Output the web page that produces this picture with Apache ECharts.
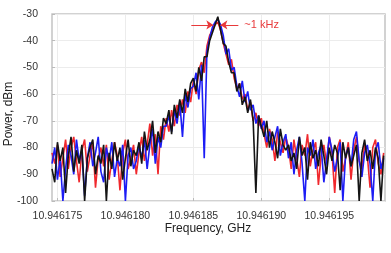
<!DOCTYPE html>
<html>
<head>
<meta charset="utf-8">
<script src="https://cdn.jsdelivr.net/npm/echarts@6/dist/echarts.min.js"></script>
<style>html,body{margin:0;padding:0;background:#fff}#c{width:391px;height:253px}</style>
</head>
<body>
<div id="c"></div>
<script>
// Frequency offset in kHz above 10.946 GHz (sweep grid)
const freqs = [174.6,174.8,175.0,175.2,175.4,175.6,175.8,176.0,176.2,176.4,176.6,176.8,177.0,177.2,177.4,177.6,177.8,178.0,178.2,178.4,178.6,178.8,179.0,179.2,179.4,179.6,179.8,180.0,180.2,180.4,180.6,180.8,181.0,181.2,181.4,181.6,181.8,182.0,182.2,182.4,182.6,182.8,183.0,183.2,183.4,183.6,183.8,184.0,184.2,184.4,184.6,184.8,185.0,185.2,185.4,185.6,185.8,186.0,186.2,186.4,186.6,186.8,187.0,187.2,187.4,187.6,187.8,188.0,188.2,188.4,188.6,188.8,189.0,189.2,189.4,189.6,189.8,190.0,190.2,190.4,190.6,190.8,191.0,191.2,191.4,191.6,191.8,192.0,192.2,192.4,192.6,192.8,193.0,193.2,193.4,193.6,193.8,194.0,194.2,194.4,194.6,194.8,195.0,195.2,195.4,195.6,195.8,196.0,196.2,196.4,196.6,196.8,197.0,197.2,197.4,197.6,197.8,198.0,198.2,198.4,198.6,198.8,199.0];

const redPower = [-82,-86,-79,-91,-84,-77,-88,-80,-76,-85,-93,-81,-77,-89,-83,-78,-95,-84,-80,-87,-79,-92,-85,-78,-83,-96,-82,-77,-88,-84,-79,-90,
  -82,-76,-85,-79,-71,-83,-75,-90,-72,-77,
  -69,-74,-66,-72,-64,-68,-62,-67,-59,-63,
  -55,-60,-51,-48,-52,
  -42,-38,-36,-34,
  -33,
  -36,-41,-45,-49,-47,
  -54,-58,-56,-62,-60,
  -66,-63,-70,-67,-72,
  -69,-75,-80,-73,-77,-85,-74,-78,-82,-76,
  -80,-88,-77,-84,-91,-79,-83,-75,-87,-81,-78,-94,-83,-79,-86,-76,-82,-97,-80,-77,-89,-84,-78,-92,-81,-76,-85,-88,-79,-83,-95,-80,-77,-86,-90,-82];

const bluePower = [-86,-80,-92,-84,-100,-88,-79,-83,-90,-77,-85,-81,-98,-84,-78,-87,-82,-76,-89,-93,-80,-85,-78,-91,-84,-87,-79,-100,-83,-80,-88,-85,
  -79,-84,-77,-88,-79,-73,-86,-76,-80,-72,
  -72,-68,-74,-66,-71,-63,-76,-60,-65,-58,
  -57,-52,-62,-49,-84,
  -44,-39,-35,-33,
  -32,
  -34,-38,-45,-43,-51,
  -50,-57,-61,-55,-63,
  -59,-66,-64,-71,-68,
  -73,-70,-78,-74,-81,-76,-72,-83,-78,-75,
  -84,-78,-90,-81,-76,-86,-100,-80,-83,-77,-88,-82,-79,-93,-85,-76,-81,-89,-84,-78,-100,-83,-80,-87,-77,-74,-85,-91,-82,-79,-86,-100,-81,-78,-88,-84];

const blackPower = [-88,-93,-78,-85,-80,-97,-83,-76,-89,-81,-86,-79,-100,-84,-80,-77,-90,-83,-86,-79,-100,-82,-88,-78,-85,-80,-92,-84,-77,-87,-81,-83,
  -78,-86,-74,-81,-77,-70,-82,-74,-78,-69,
  -71,-66,-75,-64,-69,-62,-67,-58,-63,-56,
  -54,-59,-50,-55,-46,
  -46,-40,-37,-34,
  -31,
  -36,-41,-42,-48,-52,
  -52,-59,-56,-64,-61,
  -67,-62,-70,-97,-68,
  -72,-76,-70,-80,-74,-78,-84,-73,-79,-81,
  -79,-85,-82,-88,-76,-83,-80,-92,-78,-84,-81,-87,-77,-83,-90,-80,-85,-79,-82,-96,-78,-84,-80,-87,-83,-79,-100,-82,-77,-85,-81,-88,-80,-84,-100,-83];

const xTicks = [175, 180, 185, 190, 195];
const annotationText = '~1 kHz';
const arrowY = -34.1;
const arrowLeft = [184.85, 186.47];
const arrowRight = [188.31, 186.99];

function pairs(vals) { return freqs.map((f, i) => [f, vals[i]]); }

const chart = echarts.init(document.getElementById('c'), null, {renderer: 'canvas'});
const font = 'Liberation Sans, Arial, sans-serif';
const lineCommon = {type: 'line', showSymbol: false, symbol: 'none', clip: true, animation: false};

chart.setOption({
  backgroundColor: '#ffffff',
  animation: false,
  grid: {left: 52, right: 6, top: 14, bottom: 52, containLabel: false, outerBoundsMode: 'none', show: true, borderColor: '#c4c4c4', borderWidth: 1.5, backgroundColor: 'transparent'},
  xAxis: {
    type: 'value', min: 174.6, max: 199.1,
    name: 'Frequency, GHz', nameLocation: 'middle', nameGap: 22, nameMoveOverlap: false,
    nameTextStyle: {fontFamily: font, fontSize: 12, color: '#222', padding: [0, 21, 0, 0]},
    axisLine: {show: false},
    axisTick: {show: true, inside: true, length: 3, lineStyle: {color: '#bbb'}, customValues: xTicks},
    axisLabel: {customValues: xTicks, fontFamily: font, fontSize: 10.5, color: '#333', margin: 10,
      formatter: v => '10.946' + Math.round(v)},
    splitLine: {show: true, lineStyle: {color: '#ececec', width: 1}}
  },
  yAxis: {
    type: 'value', min: -100, max: -30, interval: 10,
    name: 'Power, dBm', nameLocation: 'middle', nameGap: 37, nameRotate: 90, nameMoveOverlap: false,
    nameTextStyle: {fontFamily: font, fontSize: 12, color: '#222', padding: [0, 13, 0, 0]},
    axisLine: {show: false},
    axisTick: {show: true, inside: true, length: 3, lineStyle: {color: '#bbb'}},
    axisLabel: {fontFamily: font, fontSize: 10.5, color: '#333', margin: 14},
    splitLine: {show: true, lineStyle: {color: '#ececec', width: 1}}
  },
  series: [
    Object.assign({}, lineCommon, {name: 'red', data: pairs(redPower), lineStyle: {color: '#f0282d', width: 1.6}, itemStyle: {color: '#f0282d'}}),
    Object.assign({}, lineCommon, {name: 'blue', data: pairs(bluePower), lineStyle: {color: '#1c1cf5', width: 1.6}, itemStyle: {color: '#1c1cf5'}}),
    Object.assign({}, lineCommon, {name: 'black', data: pairs(blackPower), lineStyle: {color: '#151515', width: 1.6}, itemStyle: {color: '#151515'},
      markLine: {
        silent: true, animation: false, symbol: ['none', 'arrow'], symbolSize: [7, 7],
        lineStyle: {color: '#e8393a', width: 1, type: 'solid'},
        data: [
          [{coord: [arrowLeft[0], arrowY]}, {coord: [arrowLeft[1], arrowY]}],
          [{coord: [arrowRight[0], arrowY], label: {show: true, position: 'start', formatter: annotationText, color: '#e8393a', fontFamily: font, fontSize: 11, distance: 6}},
           {coord: [arrowRight[1], arrowY]}]
        ],
        label: {show: false}
      }})
  ]
});
</script>
</body>
</html>
